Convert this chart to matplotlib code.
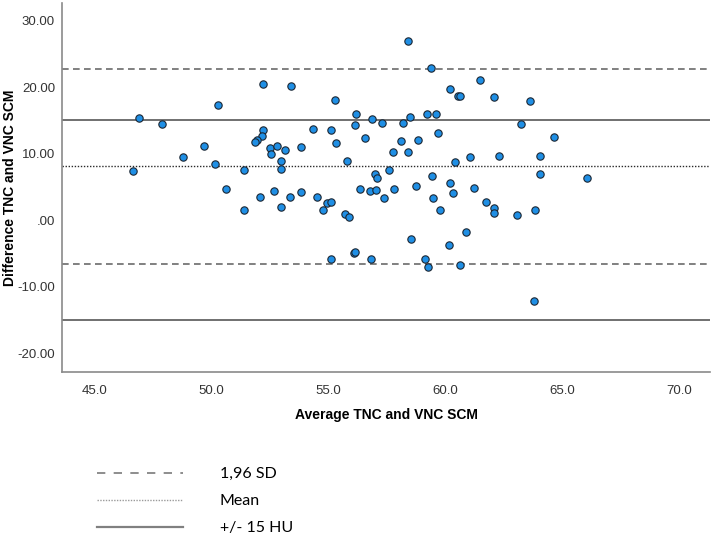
import matplotlib
matplotlib.use("Agg")
import matplotlib.pyplot as plt
from matplotlib.lines import Line2D

# Bland-Altman data: average and difference TNC / VNC SCM
avg = [46.89, 47.86, 50.27, 49.69, 48.79, 50.12, 46.62, 50.59, 58.41, 59.36,
       52.21, 53.38, 60.17, 60.54, 60.61, 55.26, 56.17, 56.84, 58.47, 59.22,
       59.57, 57.28, 58.16, 52.18, 54.32, 55.09, 56.14, 52.17, 59.67, 56.57,
       51.95, 51.86, 55.33, 58.08, 58.82, 52.47, 52.52, 52.81, 53.12, 53.82,
       57.76, 58.38, 61.05, 52.98, 55.77, 60.41, 51.37, 52.95, 57.58, 56.98,
       57.07, 59.41, 60.17, 58.75, 56.35, 56.76, 57.02, 57.81, 52.66, 53.82,
       60.31, 52.06, 53.33, 54.49, 54.94, 55.12, 57.38, 59.47, 61.45, 62.06,
       63.60, 63.24, 64.62, 62.26, 64.04, 64.02, 66.06, 61.21, 61.71, 62.05,
       62.05, 63.03, 63.82, 60.87, 60.62, 63.76, 51.37, 52.95, 54.74, 55.71,
       55.88, 59.77, 58.52, 60.16, 56.08, 56.13, 55.09, 56.81, 59.12, 59.23]
diff = [15.35, 14.50, 17.36, 11.10, 9.56, 8.40, 7.40, 4.76, 27.00, 22.95,
        20.45, 20.15, 19.76, 18.65, 18.60, 18.10, 15.95, 15.26, 15.56, 16.00,
        15.95, 14.55, 14.55, 13.55, 13.65, 13.58, 14.25, 12.70, 13.16, 12.38,
        12.10, 11.73, 11.67, 11.85, 12.12, 10.92, 10.02, 11.20, 10.62, 11.03,
        10.32, 10.32, 9.56, 8.96, 8.96, 8.80, 7.50, 7.65, 7.50, 6.98,
        6.30, 6.65, 5.58, 5.13, 4.73, 4.35, 4.60, 4.62, 4.32, 4.20,
        4.02, 3.50, 3.45, 3.54, 2.66, 2.80, 3.35, 3.35, 21.10, 18.50,
        17.85, 14.45, 12.45, 9.70, 9.72, 7.00, 6.30, 4.80, 2.80, 1.90,
        1.15, 0.80, 1.60, -1.70, -6.80, -12.15, 1.50, 2.06, 1.60, 1.00,
        0.56, 1.50, -2.80, -3.75, -4.85, -4.75, -5.85, -5.80, -5.80, -7.00]

mean_diff = 8.1
upper_loa = 22.75
lower_loa = -6.6
limit = 15

xticks = [45, 50, 55, 60, 65, 70]
xticklabels = ["45.0", "50.0", "55.0", "60.0", "65.0", "70.0"]
yticks = [-20, -10, 0, 10, 20, 30]
yticklabels = ["-20.00", "-10.00", ".00", "10.00", "20.00", "30.00"]

legend_labels = ["1,96 SD", "Mean", "+/- 15 HU"]

axis_font = ["Liberation Sans", "DejaVu Sans"]

fig = plt.figure(figsize=(7.14, 5.34), dpi=100)
ax = fig.add_axes([62/714, 1-372.3/534, 648/714, 369/534])

dash = dict(color="#6b6b6b", lw=1.2, ls=(0, (4, 2.6)))
dots = dict(color="#2a2a2a", lw=1.0, ls=(0, (1, 1.2)))
solid = dict(color="#707070", lw=1.4, ls="-")

ax.axhline(upper_loa, **dash)
ax.axhline(lower_loa, **dash)
ax.axhline(mean_diff, **dots)
ax.axhline(limit, **solid)
ax.axhline(-limit, **solid)

ax.scatter(avg, diff, s=28, facecolor="#1f8fe5", edgecolor="#1b2633",
           linewidth=0.8, zorder=3)

ax.set_xlim(43.6, 71.3)
ax.set_ylim(-22.85, 32.6)
ax.set_xticks(xticks)
ax.set_xticklabels(xticklabels)
ax.set_yticks(yticks)
ax.set_yticklabels(yticklabels)
ax.tick_params(axis="both", length=0, labelsize=9.5, colors="#333333")
ax.tick_params(axis="x", pad=9)
ax.tick_params(axis="y", pad=5)
for lab in ax.get_xticklabels() + ax.get_yticklabels():
    lab.set_family(axis_font)

for side in ["top", "right"]:
    ax.spines[side].set_visible(False)
for side in ["left", "bottom"]:
    ax.spines[side].set_color("#8a8a8a")
    ax.spines[side].set_linewidth(1.2)

ax.set_xlabel("Average TNC and VNC SCM", fontsize=10, fontweight="bold",
              family=axis_font)
ax.set_ylabel("Difference TNC and VNC SCM", fontsize=10, fontweight="bold",
              family=axis_font)
ax.xaxis.set_label_coords(0.5, -0.097)
ax.yaxis.set_label_coords(-0.069, 0.5)

handles = [Line2D([], [], color="#7a7a7a", lw=1.2, ls=(0, (5, 5))),
           Line2D([], [], color="#9a9a9a", lw=1.0, ls=(0, (1, 1))),
           Line2D([], [], color="#808080", lw=1.6, ls="-")]
fig.legend(handles, legend_labels, loc="upper left",
           bbox_to_anchor=(97/714, 1-467/534), bbox_transform=fig.transFigure,
           frameon=False, borderpad=0, borderaxespad=0, handlelength=5.4,
           handletextpad=2.3, labelspacing=0.8,
           prop=dict(family=["Lato", "DejaVu Sans"], size=11.5))

fig.savefig("out.png", dpi=100)
